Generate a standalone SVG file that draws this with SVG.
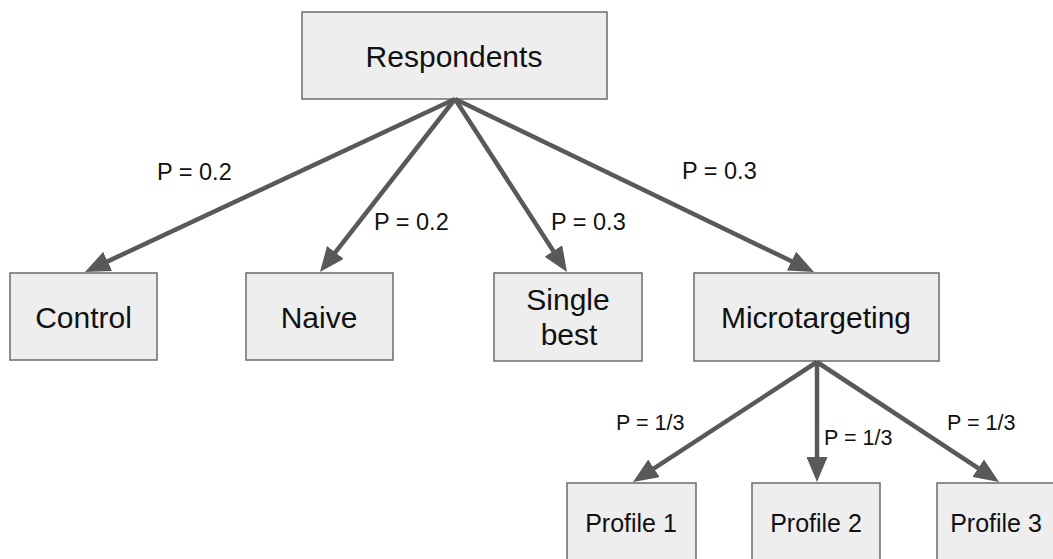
<svg xmlns="http://www.w3.org/2000/svg" width="1053" height="559" viewBox="0 0 1053 559">
<style>
  .box { fill: #eeeeee; stroke: #6b6b6b; stroke-width: 1.5; }
  .t { font-family: "Liberation Sans", Arial, sans-serif; fill: #111111; text-anchor: middle; }
  .big { font-size: 30px; }
  .prof { font-size: 25px; }
  .lbl { font-family: "Liberation Sans", Arial, sans-serif; fill: #111111; font-size: 23.5px; }
  .lbl3 { font-family: "Liberation Sans", Arial, sans-serif; fill: #111111; font-size: 21.5px; }
  .edge { stroke: #595959; stroke-width: 4.5; fill: none; marker-end: url(#arrow); }
</style>
<defs>
  <marker id="arrow" markerUnits="userSpaceOnUse" viewBox="0 0 25 21" markerWidth="25" markerHeight="21" refX="10" refY="10.5" orient="auto">
    <path d="M0,0 L25,10.5 L0,21 z" fill="#595959"/>
  </marker>
</defs>
<rect width="1053" height="559" fill="#ffffff"/>

<g id="respondents"><rect class="box" x="302" y="12" width="305" height="87"/><text class="t big" x="454" y="67">Respondents</text></g>
<g id="control"><rect class="box" x="10" y="273" width="147" height="87"/><text class="t big" x="83.5" y="328">Control</text></g>
<g id="naive"><rect class="box" x="246" y="273" width="147" height="87"/><text class="t big" x="319" y="328">Naive</text></g>
<g id="single-best"><rect class="box" x="494" y="273" width="148" height="88"/><text class="t big" x="568" y="310">Single</text><text class="t big" x="569" y="345">best</text></g>
<g id="microtargeting"><rect class="box" x="694" y="273" width="245" height="88"/><text class="t big" x="816" y="328">Microtargeting</text></g>
<g id="profile1"><rect class="box" x="567" y="483" width="129" height="90"/><text class="t prof" x="631" y="532">Profile 1</text></g>
<g id="profile2"><rect class="box" x="752" y="483" width="128" height="90"/><text class="t prof" x="816" y="532">Profile 2</text></g>
<g id="profile3"><rect class="box" x="937" y="483" width="129" height="90"/><text class="t prof" x="996" y="532">Profile 3</text></g>

<g id="connectors">
  <line class="edge" x1="455" y1="99" x2="98.6" y2="265.6"/>
  <line class="edge" x1="455" y1="99" x2="329.2" y2="260.2"/>
  <line class="edge" x1="455" y1="99" x2="558.8" y2="259.4"/>
  <line class="edge" x1="455" y1="99" x2="800.5" y2="265.5"/>
  <line class="edge" x1="817" y1="362" x2="645.6" y2="473.8"/>
  <line class="edge" x1="817" y1="362" x2="817" y2="467"/>
  <line class="edge" x1="817" y1="362" x2="986.5" y2="473.7"/>
  <text class="lbl" x="157" y="180">P = 0.2</text>
  <text class="lbl" x="374" y="230">P = 0.2</text>
  <text class="lbl" x="551" y="230">P = 0.3</text>
  <text class="lbl" x="682" y="179">P = 0.3</text>
  <text class="lbl3" x="616" y="430">P = 1/3</text>
  <text class="lbl3" x="824" y="445">P = 1/3</text>
  <text class="lbl3" x="947" y="430">P = 1/3</text>
</g>
</svg>
